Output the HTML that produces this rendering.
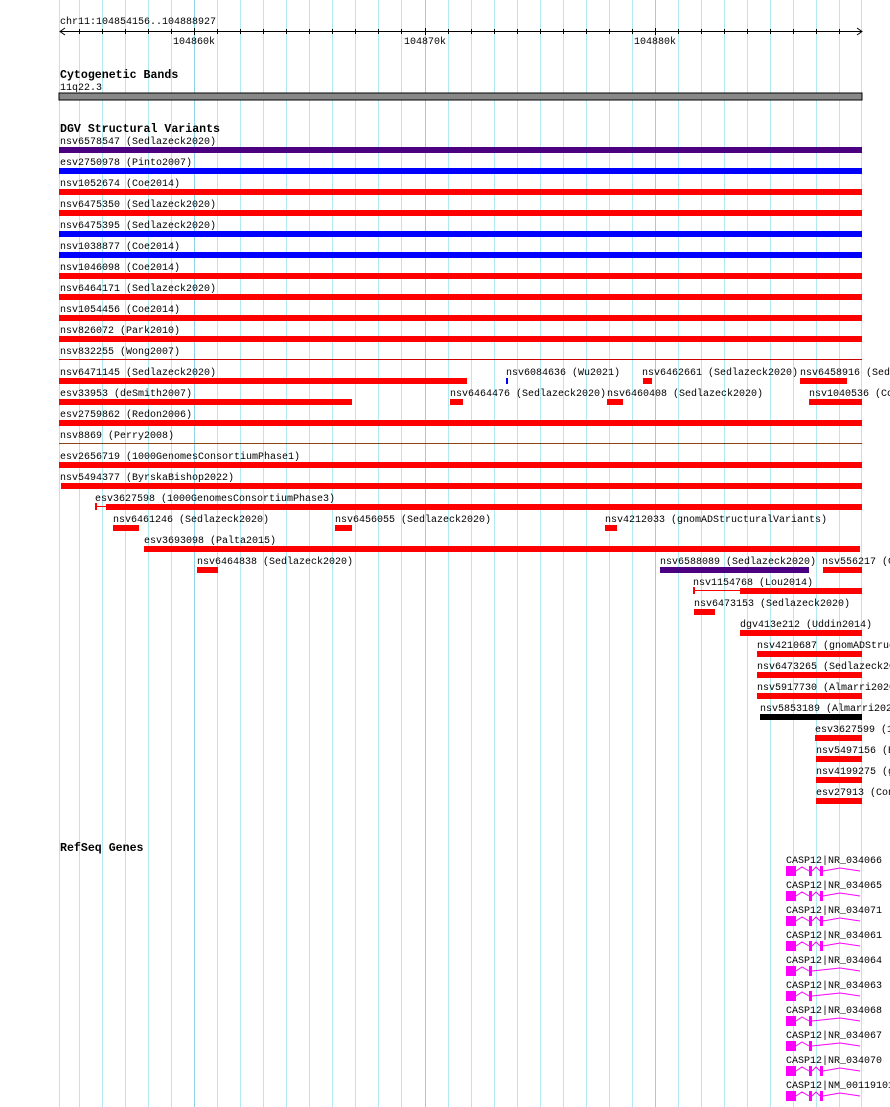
<!DOCTYPE html>
<html><head><meta charset="utf-8"><style>
html,body{margin:0;padding:0;background:#fff;width:890px;height:1107px;overflow:hidden}
svg{display:block}
text{font-family:"Liberation Mono",monospace;font-size:10px;fill:#000}
.t{font-weight:bold;font-size:11.6px}
.g{stroke:#aeeaf0;stroke-width:1}
.gd{stroke:#8fd3e6;stroke-width:1}
.r{fill:#f00}.b{fill:#00f}.p{fill:#4b0082}.k{fill:#000}
.m{fill:#f0f}
.ml{stroke:#f0f;fill:none;stroke-width:1}
</style></head><body>
<svg width="890" height="1107" viewBox="0 0 890 1107" xmlns="http://www.w3.org/2000/svg">
<g>
<line class="g" x1="59.5" y1="0" x2="59.5" y2="1107"/>
<line class="g" x1="79.5" y1="0" x2="79.5" y2="1107"/>
<line class="g" x1="102.5" y1="0" x2="102.5" y2="1107"/>
<line class="g" x1="125.5" y1="0" x2="125.5" y2="1107"/>
<line class="g" x1="148.5" y1="0" x2="148.5" y2="1107"/>
<line class="g" x1="171.5" y1="0" x2="171.5" y2="1107"/>
<line class="gd" x1="194.5" y1="0" x2="194.5" y2="1107"/>
<line class="g" x1="217.5" y1="0" x2="217.5" y2="1107"/>
<line class="g" x1="240.5" y1="0" x2="240.5" y2="1107"/>
<line class="g" x1="263.5" y1="0" x2="263.5" y2="1107"/>
<line class="g" x1="286.5" y1="0" x2="286.5" y2="1107"/>
<line class="g" x1="309.5" y1="0" x2="309.5" y2="1107"/>
<line class="g" x1="332.5" y1="0" x2="332.5" y2="1107"/>
<line class="g" x1="355.5" y1="0" x2="355.5" y2="1107"/>
<line class="g" x1="378.5" y1="0" x2="378.5" y2="1107"/>
<line class="g" x1="401.5" y1="0" x2="401.5" y2="1107"/>
<line class="gd" x1="425.5" y1="0" x2="425.5" y2="1107"/>
<line class="g" x1="448.5" y1="0" x2="448.5" y2="1107"/>
<line class="g" x1="471.5" y1="0" x2="471.5" y2="1107"/>
<line class="g" x1="494.5" y1="0" x2="494.5" y2="1107"/>
<line class="g" x1="517.5" y1="0" x2="517.5" y2="1107"/>
<line class="g" x1="540.5" y1="0" x2="540.5" y2="1107"/>
<line class="g" x1="563.5" y1="0" x2="563.5" y2="1107"/>
<line class="g" x1="586.5" y1="0" x2="586.5" y2="1107"/>
<line class="g" x1="609.5" y1="0" x2="609.5" y2="1107"/>
<line class="g" x1="632.5" y1="0" x2="632.5" y2="1107"/>
<line class="gd" x1="655.5" y1="0" x2="655.5" y2="1107"/>
<line class="g" x1="678.5" y1="0" x2="678.5" y2="1107"/>
<line class="g" x1="701.5" y1="0" x2="701.5" y2="1107"/>
<line class="g" x1="724.5" y1="0" x2="724.5" y2="1107"/>
<line class="g" x1="747.5" y1="0" x2="747.5" y2="1107"/>
<line class="g" x1="770.5" y1="0" x2="770.5" y2="1107"/>
<line class="g" x1="793.5" y1="0" x2="793.5" y2="1107"/>
<line class="g" x1="816.5" y1="0" x2="816.5" y2="1107"/>
<line class="g" x1="839.5" y1="0" x2="839.5" y2="1107"/>
<line class="g" x1="861.5" y1="0" x2="861.5" y2="1107"/>
</g>
<!-- ruler -->
<text x="60" y="24">chr11:104854156..104888927</text>
<line x1="60" y1="31.5" x2="862" y2="31.5" stroke="#000"/>
<path d="M65 28 L60 31.5 L65 35 M857 28 L862 31.5 L857 35" stroke="#000" fill="none"/>
<g stroke="#000">
<path d="M79.5 29V34M102.5 29V34M125.5 29V34M148.5 29V34M171.5 29V34M194.5 28V35M217.5 29V34M240.5 29V34M263.5 29V34M286.5 29V34M309.5 29V34M332.5 29V34M355.5 29V34M378.5 29V34M401.5 29V34M425.5 28V35M448.5 29V34M471.5 29V34M494.5 29V34M517.5 29V34M540.5 29V34M563.5 29V34M586.5 29V34M609.5 29V34M632.5 29V34M655.5 28V35M678.5 29V34M701.5 29V34M724.5 29V34M747.5 29V34M770.5 29V34M793.5 29V34M816.5 29V34M839.5 29V34"/>
</g>
<text x="173" y="44">104860k</text>
<text x="404" y="44">104870k</text>
<text x="634" y="44">104880k</text>
<!-- cyto -->
<text class="t" x="60" y="78">Cytogenetic Bands</text>
<text x="60" y="90">11q22.3</text>
<rect x="59" y="93" width="803" height="7" fill="#888" stroke="#000" stroke-width="1"/>
<!-- DGV -->
<text class="t" x="60" y="132">DGV Structural Variants</text>
<text x="60" y="144">nsv6578547 (Sedlazeck2020)</text><rect class="p" x="59" y="147" width="803" height="6"/>
<text x="60" y="165">esv2750978 (Pinto2007)</text><rect class="b" x="59" y="168" width="803" height="6"/>
<text x="60" y="186">nsv1052674 (Coe2014)</text><rect class="r" x="59" y="189" width="803" height="6"/>
<text x="60" y="207">nsv6475350 (Sedlazeck2020)</text><rect class="r" x="59" y="210" width="803" height="6"/>
<text x="60" y="228">nsv6475395 (Sedlazeck2020)</text><rect class="b" x="59" y="231" width="803" height="6"/>
<text x="60" y="249">nsv1038877 (Coe2014)</text><rect class="b" x="59" y="252" width="803" height="6"/>
<text x="60" y="270">nsv1046098 (Coe2014)</text><rect class="r" x="59" y="273" width="803" height="6"/>
<text x="60" y="291">nsv6464171 (Sedlazeck2020)</text><rect class="r" x="59" y="294" width="803" height="6"/>
<text x="60" y="312">nsv1054456 (Coe2014)</text><rect class="r" x="59" y="315" width="803" height="6"/>
<text x="60" y="333">nsv826072 (Park2010)</text><rect class="r" x="59" y="336" width="803" height="6"/>
<text x="60" y="354">nsv832255 (Wong2007)</text><rect x="59" y="359" width="803" height="1" fill="#c00"/>
<text x="60" y="375">nsv6471145 (Sedlazeck2020)</text><rect class="r" x="59" y="378" width="408" height="6"/>
<text x="506" y="375">nsv6084636 (Wu2021)</text><rect class="b" x="506" y="378" width="2" height="6"/>
<text x="642" y="375">nsv6462661 (Sedlazeck2020)</text><rect class="r" x="643" y="378" width="9" height="6"/>
<text x="800" y="375">nsv6458916 (Sedlazeck2020)</text><rect class="r" x="800" y="378" width="47" height="6"/>
<text x="60" y="396">esv33953 (deSmith2007)</text><rect class="r" x="59" y="399" width="293" height="6"/>
<text x="450" y="396">nsv6464476 (Sedlazeck2020)</text><rect class="r" x="450" y="399" width="13" height="6"/>
<text x="607" y="396">nsv6460408 (Sedlazeck2020)</text><rect class="r" x="607" y="399" width="16" height="6"/>
<text x="809" y="396">nsv1040536 (Coe2014)</text><rect class="r" x="809" y="399" width="53" height="6"/>
<text x="60" y="417">esv2759862 (Redon2006)</text><rect class="r" x="59" y="420" width="803" height="6"/>
<text x="60" y="438">nsv8869 (Perry2008)</text><rect x="59" y="443" width="803" height="1" fill="#8b4513"/>
<text x="60" y="459">esv2656719 (1000GenomesConsortiumPhase1)</text><rect class="r" x="59" y="462" width="803" height="6"/>
<text x="60" y="480">nsv5494377 (ByrskaBishop2022)</text><rect class="r" x="61" y="483" width="801" height="6"/>
<text x="95" y="501">esv3627598 (1000GenomesConsortiumPhase3)</text><rect class="r" x="95" y="503" width="2" height="7"/><rect class="r" x="95" y="506" width="11" height="1"/><rect class="r" x="106" y="504" width="756" height="6"/>
<text x="113" y="522">nsv6461246 (Sedlazeck2020)</text><rect class="r" x="113" y="525" width="26" height="6"/>
<text x="335" y="522">nsv6456055 (Sedlazeck2020)</text><rect class="r" x="335" y="525" width="17" height="6"/>
<text x="605" y="522">nsv4212033 (gnomADStructuralVariants)</text><rect class="r" x="605" y="525" width="12" height="6"/>
<text x="144" y="543">esv3693098 (Palta2015)</text><rect class="r" x="144" y="546" width="716" height="6"/>
<text x="197" y="564">nsv6464838 (Sedlazeck2020)</text><rect class="r" x="197" y="567" width="21" height="6"/>
<text x="660" y="564">nsv6588089 (Sedlazeck2020)</text><rect class="p" x="660" y="567" width="149" height="6"/>
<text x="822" y="564">nsv556217 (Coe2014)</text><rect class="r" x="823" y="567" width="39" height="6"/>
<text x="693" y="585">nsv1154768 (Lou2014)</text><rect class="r" x="693" y="587" width="2" height="7"/><rect class="r" x="693" y="590" width="47" height="1"/><rect class="r" x="740" y="588" width="122" height="6"/>
<text x="694" y="606">nsv6473153 (Sedlazeck2020)</text><rect class="r" x="694" y="609" width="21" height="6"/>
<text x="740" y="627">dgv413e212 (Uddin2014)</text><rect class="r" x="740" y="630" width="122" height="6"/>
<text x="757" y="648">nsv4210687 (gnomADStructuralVariants)</text><rect class="r" x="757" y="651" width="105" height="6"/>
<text x="757" y="669">nsv6473265 (Sedlazeck2020)</text><rect class="r" x="757" y="672" width="105" height="6"/>
<text x="757" y="690">nsv5917730 (Almarri2020)</text><rect class="r" x="757" y="693" width="105" height="6"/>
<text x="760" y="711">nsv5853189 (Almarri2020)</text><rect class="k" x="760" y="714" width="102" height="6"/>
<text x="815" y="732">esv3627599 (1000GenomesConsortiumPhase3)</text><rect class="r" x="815" y="735" width="47" height="6"/>
<text x="816" y="753">nsv5497156 (ByrskaBishop2022)</text><rect class="r" x="816" y="756" width="46" height="6"/>
<text x="816" y="774">nsv4199275 (gnomADStructuralVariants)</text><rect class="r" x="816" y="777" width="46" height="6"/>
<text x="816" y="795">esv27913 (Conrad2009)</text><rect class="r" x="816" y="798" width="46" height="6"/>
<!-- RefSeq -->
<text class="t" x="60" y="851">RefSeq Genes</text>
<g id="genes">
<text x="786" y="863">CASP12|NR_034066</text>
<rect class="m" x="786" y="866" width="10" height="10"/><rect class="m" x="809" y="866" width="3" height="10"/><rect class="m" x="820" y="866" width="3" height="10"/>
<path class="ml" d="M796 871L802 867L809 871M812 871L816 867L820 871M823 871L840 868L860 871"/>
<text x="786" y="888">CASP12|NR_034065</text>
<rect class="m" x="786" y="891" width="10" height="10"/><rect class="m" x="809" y="891" width="3" height="10"/><rect class="m" x="820" y="891" width="3" height="10"/>
<path class="ml" d="M796 896L802 892L809 896M812 896L816 892L820 896M823 896L840 893L860 896"/>
<text x="786" y="913">CASP12|NR_034071</text>
<rect class="m" x="786" y="916" width="10" height="10"/><rect class="m" x="809" y="916" width="3" height="10"/><rect class="m" x="820" y="916" width="3" height="10"/>
<path class="ml" d="M796 921L802 917L809 921M812 921L816 917L820 921M823 921L840 918L860 921"/>
<text x="786" y="938">CASP12|NR_034061</text>
<rect class="m" x="786" y="941" width="10" height="10"/><rect class="m" x="809" y="941" width="3" height="10"/><rect class="m" x="820" y="941" width="3" height="10"/>
<path class="ml" d="M796 946L802 942L809 946M812 946L816 942L820 946M823 946L840 943L860 946"/>
<text x="786" y="963">CASP12|NR_034064</text>
<rect class="m" x="786" y="966" width="10" height="10"/><rect class="m" x="809" y="966" width="3" height="10"/>
<path class="ml" d="M796 971L802 967L809 971M812 971L840 968L860 971"/>
<text x="786" y="988">CASP12|NR_034063</text>
<rect class="m" x="786" y="991" width="10" height="10"/><rect class="m" x="809" y="991" width="3" height="10"/>
<path class="ml" d="M796 996L802 992L809 996M812 996L840 993L860 996"/>
<text x="786" y="1013">CASP12|NR_034068</text>
<rect class="m" x="786" y="1016" width="10" height="10"/><rect class="m" x="809" y="1016" width="3" height="10"/>
<path class="ml" d="M796 1021L802 1017L809 1021M812 1021L840 1018L860 1021"/>
<text x="786" y="1038">CASP12|NR_034067</text>
<rect class="m" x="786" y="1041" width="10" height="10"/><rect class="m" x="809" y="1041" width="3" height="10"/>
<path class="ml" d="M796 1046L802 1042L809 1046M812 1046L840 1043L860 1046"/>
<text x="786" y="1063">CASP12|NR_034070</text>
<rect class="m" x="786" y="1066" width="10" height="10"/><rect class="m" x="809" y="1066" width="3" height="10"/><rect class="m" x="820" y="1066" width="3" height="10"/>
<path class="ml" d="M796 1071L802 1067L809 1071M812 1071L816 1067L820 1071M823 1071L840 1068L860 1071"/>
<text x="786" y="1088">CASP12|NM_001191016</text>
<rect class="m" x="786" y="1091" width="10" height="10"/><rect class="m" x="809" y="1091" width="3" height="10"/><rect class="m" x="820" y="1091" width="3" height="10"/>
<path class="ml" d="M796 1096L802 1092L809 1096M812 1096L816 1092L820 1096M823 1096L840 1093L860 1096"/>
</g>
</svg>
</body></html>
